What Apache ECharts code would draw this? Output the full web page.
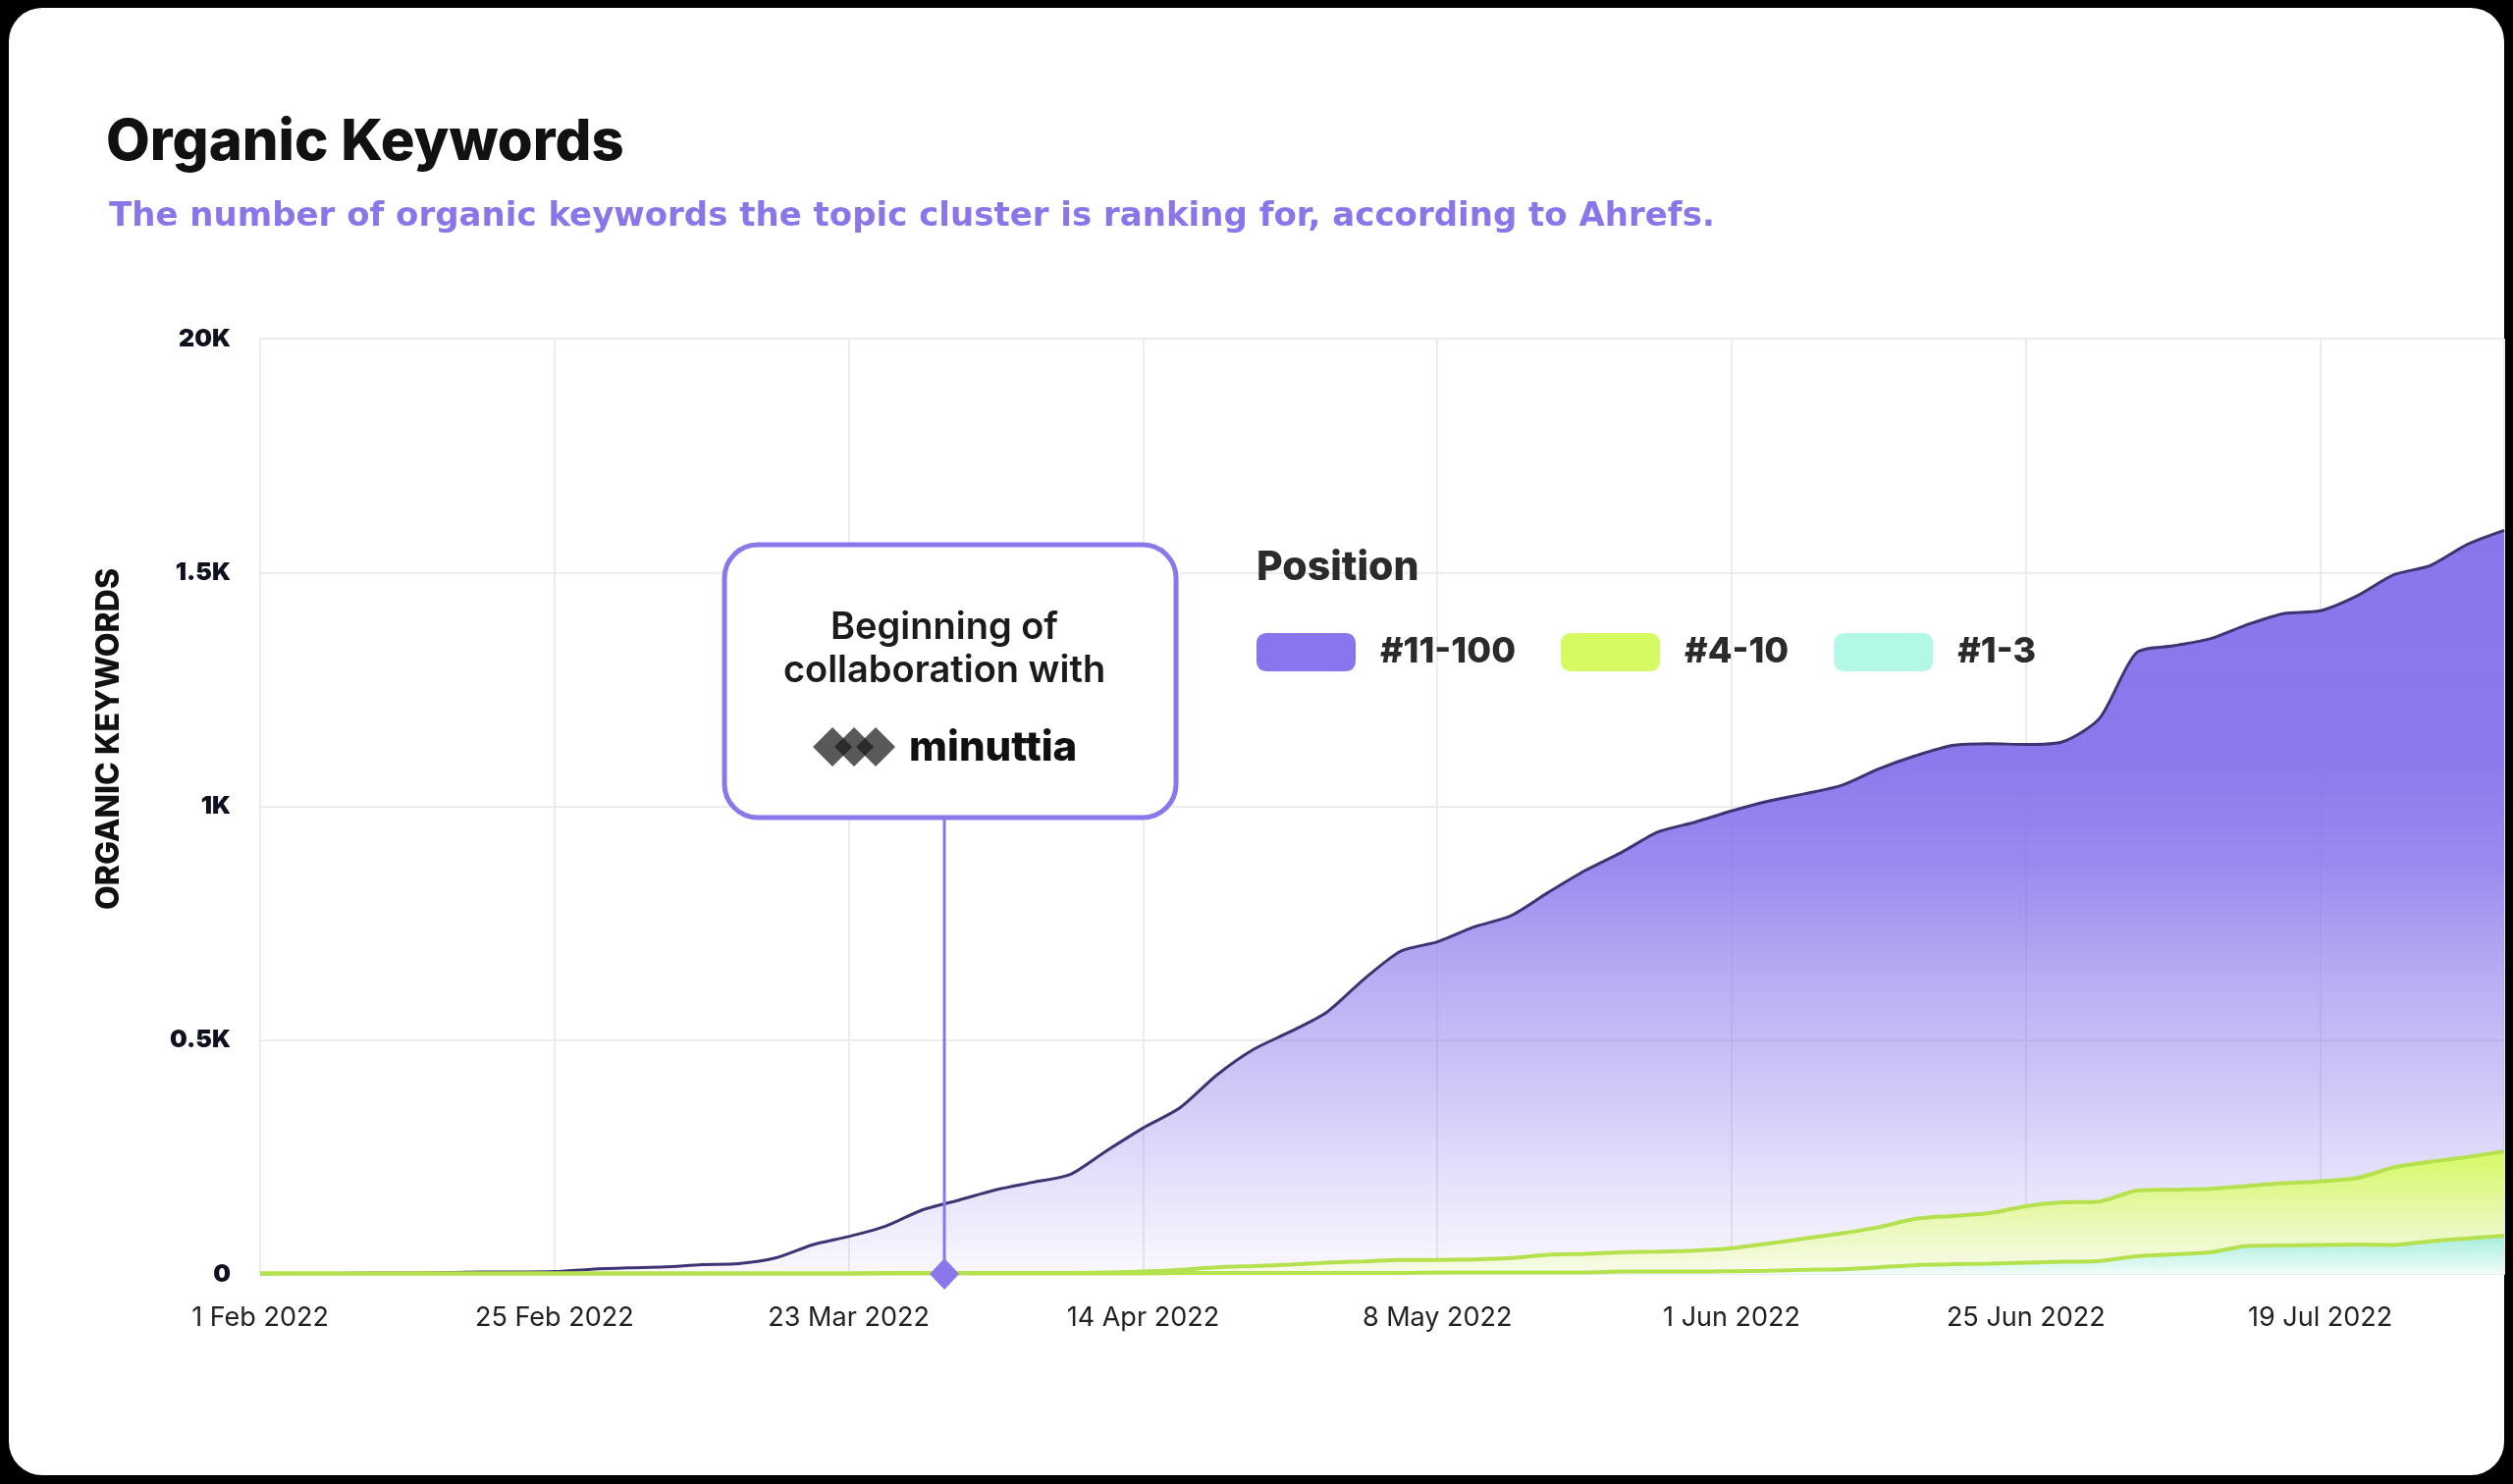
<!DOCTYPE html>
<html>
<head>
<meta charset="utf-8">
<script src="https://cdn.jsdelivr.net/npm/echarts@6/dist/echarts.min.js"></script>
<style>
  html, body { margin: 0; padding: 0; width: 2560px; height: 1512px; background: #000; overflow: hidden; }
  #frame { position: absolute; left: 9px; top: 8px; width: 2542px; height: 1495px; background: #fff; border-radius: 34px; }
  #main { position: absolute; left: 0; top: 0; width: 2560px; height: 1512px; }
</style>
</head>
<body>
<div id="frame"></div>
<div id="main"></div>
<script>
// ---- data ----
const tickLabels = ['1 Feb 2022', '25 Feb 2022', '23 Mar 2022', '14 Apr 2022', '8 May 2022', '1 Jun 2022', '25 Jun 2022', '19 Jul 2022'];
const pointsPerTick = 8;
const yTickLabels = ['0', '0.5K', '1K', '1.5K', '20K'];
const seriesNames = ['#11-100', '#4-10', '#1-3'];

const pos11to100 = [0, 1, 1, 2, 2, 3, 4, 4, 5, 10,
  13, 15, 20, 22, 34, 62, 80, 102, 137, 158,
  180, 196, 212, 263, 312, 355, 425, 480, 518, 560,
  630, 690, 710, 742, 766, 815, 862, 901, 945, 966,
  990, 1011, 1027, 1045, 1080, 1108, 1130, 1134, 1132, 1138,
  1188, 1328, 1343, 1358, 1388, 1412, 1418, 1450, 1495, 1515,
  1560, 1590];
const pos4to10 = [1, 1, 1, 1, 1, 1, 1, 1, 1, 1,
  1, 1, 1, 1, 1, 1, 1, 2, 2, 2,
  2, 2, 2, 3, 5, 9, 14, 17, 20, 24,
  27, 30, 30, 31, 34, 41, 43, 46, 48, 50,
  55, 65, 76, 87, 100, 118, 124, 130, 145, 153,
  155, 178, 180, 182, 188, 194, 198, 205, 228, 240,
  250, 262];
const pos1to3 = [1, 1, 1, 1, 1, 1, 1, 1, 1, 1,
  1, 1, 1, 1, 1, 1, 1, 1, 1, 1,
  1, 1, 1, 1, 1, 2, 2, 2, 2, 2,
  2, 2, 3, 3, 3, 3, 3, 5, 5, 5,
  6, 7, 9, 10, 14, 19, 21, 22, 24, 26,
  28, 38, 42, 46, 60, 61, 62, 63, 62, 70,
  76, 82];
// position of the "Beginning of collaboration" marker on the point-index axis
const annotationIndex = 18.6;

// ---- chart ----
const FONT = 'Inter, "Noto Sans", sans-serif';
const WIDE = '"DejaVu Sans", Inter, sans-serif';
const toPairs = arr => arr.map((v, i) => [i, v]);
const lastIndex = pos11to100.length - 1;

function grad(stops) {
  return new echarts.graphic.LinearGradient(0, 0, 0, 1, stops.map(s => ({ offset: s[0], color: s[1] })));
}

const chart = echarts.init(document.getElementById('main'), null, { renderer: 'canvas' });

const option = {
  backgroundColor: 'transparent',
  animation: false,
  textStyle: { fontFamily: FONT },
  title: [
    { text: 'Organic Keywords', left: 103, top: 112,
      textStyle: { fontFamily: FONT, fontSize: 58, fontWeight: 800, color: '#111111' } },
    { text: 'The number of organic keywords the topic cluster is ranking for, according to Ahrefs.', left: 106, top: 199,
      textStyle: { fontFamily: WIDE, fontSize: 34, fontWeight: 'bold', color: '#8b76e9' } },
    { text: 'Position', left: 1275, top: 553,
      textStyle: { fontFamily: FONT, fontSize: 41, fontWeight: 800, color: '#2b2b2b' } }
  ],
  legend: {
    left: 1275, top: 640,
    icon: 'roundRect',
    itemWidth: 101, itemHeight: 39, itemGap: 46,
    itemStyle: { borderWidth: 0 },
    textStyle: { fontFamily: FONT, fontSize: 36, fontWeight: 800, color: '#2b2b2b', padding: [0, 0, 0, 20] },
    data: [
      { name: seriesNames[0], itemStyle: { color: '#8a75ef' } },
      { name: seriesNames[1], itemStyle: { color: '#d6fb62' } },
      { name: seriesNames[2], itemStyle: { color: '#b3f7e7' } }
    ],
    selectedMode: false
  },
  grid: { left: 265, right: 9, top: 345, bottom: 214 },
  xAxis: {
    type: 'value', min: 0, max: lastIndex, interval: pointsPerTick,
    axisLine: { show: true, lineStyle: { color: '#ececec', width: 2 } },
    axisTick: { show: false },
    splitLine: { show: true, lineStyle: { color: '#ececec', width: 2 } },
    axisLabel: {
      margin: 31, fontFamily: FONT, fontSize: 27, color: '#222222',
      showMaxLabel: false,
      formatter: v => (v % pointsPerTick === 0 && tickLabels[v / pointsPerTick]) ? tickLabels[v / pointsPerTick] : ''
    }
  },
  yAxis: {
    type: 'value', min: 0, max: 2000, interval: 500,
    axisLine: { show: false }, axisTick: { show: false },
    splitLine: { lineStyle: { color: '#ececec', width: 2 } },
    axisLabel: {
      margin: 30, fontFamily: FONT, fontSize: 25, fontWeight: 900, color: '#0f1020',
      padding: [6, 0, 0, 0],
      formatter: v => yTickLabels[Math.round(v / 500)]
    }
  },
  series: [
    {
      name: seriesNames[0], type: 'line', data: toPairs(pos11to100), smooth: 0.25,
      showSymbol: false, symbol: 'none', z: 2,
      itemStyle: { color: '#8a75ef' },
      lineStyle: { color: '#3d3573', width: 3 },
      areaStyle: { color: grad([
        [0, 'rgba(137,118,236,1)'], [0.3, 'rgba(137,118,236,0.98)'], [0.45, 'rgba(137,118,236,0.85)'],
        [0.6, 'rgba(137,118,236,0.6)'], [0.75, 'rgba(137,118,236,0.4)'], [0.9, 'rgba(137,118,236,0.18)'],
        [1, 'rgba(137,118,236,0.05)']]), opacity: 1 }
    },
    {
      name: seriesNames[1], type: 'line', data: toPairs(pos4to10), smooth: 0.25,
      showSymbol: false, symbol: 'none', z: 3,
      itemStyle: { color: '#d6fb62' },
      lineStyle: { color: '#b6e14e', width: 4 },
      areaStyle: { color: grad([[0, '#d6f962'], [0.5, '#e7f8ad'], [1, '#f7fbea']]), opacity: 1 }
    },
    {
      name: seriesNames[2], type: 'line', data: toPairs(pos1to3), smooth: 0.25,
      showSymbol: false, symbol: 'none', z: 4,
      itemStyle: { color: '#b3f7e7' },
      lineStyle: { color: '#b6e14e', width: 4 },
      areaStyle: { color: grad([[0, '#a6eedd'], [1, '#f1fcf9']]), opacity: 1 }
    }
  ]
};
chart.setOption(option);

// annotation anchored to the data x position
const base = chart.convertToPixel({ xAxisIndex: 0, yAxisIndex: 0 }, [annotationIndex, 0]);
const lx = base[0], ly = base[1];
const boxW = 460, boxH = 278, boxTop = 555;
const boxLeft = lx - boxW / 2 + 6;
const cx = boxLeft + boxW / 2;
const logoY = boxTop + 206;
chart.setOption({
  graphic: [
    { type: 'text', z: 100, silent: true, x: 111, y: 753, rotation: Math.PI / 2,
      style: { text: 'ORGANIC KEYWORDS', font: '800 32px ' + FONT, fill: '#111111', align: 'center', verticalAlign: 'middle' } },
    { type: 'line', z: 100, silent: true,
      shape: { x1: lx, y1: boxTop + boxH, x2: lx, y2: ly },
      style: { stroke: '#8b76ea', lineWidth: 3 } },
    { type: 'polygon', z: 101, silent: true,
      shape: { points: [[lx, ly - 16], [lx + 15, ly], [lx, ly + 16], [lx - 15, ly]] },
      style: { fill: '#8b76ea' } },
    { type: 'rect', z: 100, silent: true,
      shape: { x: boxLeft, y: boxTop, width: boxW, height: boxH, r: 34 },
      style: { fill: '#ffffff', stroke: '#8b76ea', lineWidth: 5 } },
    { type: 'text', z: 101, silent: true, x: cx - 6, y: boxTop + 85,
      style: { text: 'Beginning of', font: '600 38px ' + FONT, fill: '#1b1b1b', align: 'center', verticalAlign: 'middle' } },
    { type: 'text', z: 101, silent: true, x: cx - 6, y: boxTop + 129,
      style: { text: 'collaboration with', font: '600 38px ' + FONT, fill: '#1b1b1b', align: 'center', verticalAlign: 'middle' } },
    { type: 'polygon', z: 101, silent: true,
      shape: { points: [[cx - 120, logoY - 20], [cx - 100, logoY], [cx - 120, logoY + 20], [cx - 140, logoY]] },
      style: { fill: 'rgba(25,25,25,0.72)' } },
    { type: 'polygon', z: 101, silent: true,
      shape: { points: [[cx - 98, logoY - 20], [cx - 78, logoY], [cx - 98, logoY + 20], [cx - 118, logoY]] },
      style: { fill: 'rgba(25,25,25,0.72)' } },
    { type: 'polygon', z: 101, silent: true,
      shape: { points: [[cx - 76, logoY - 20], [cx - 56, logoY], [cx - 76, logoY + 20], [cx - 96, logoY]] },
      style: { fill: 'rgba(25,25,25,0.72)' } },
    { type: 'text', z: 101, silent: true, x: cx - 42, y: logoY + 1,
      style: { text: 'minuttia', font: '800 42px ' + FONT, fill: '#111111', align: 'left', verticalAlign: 'middle' } }
  ]
});
</script>
</body>
</html>
